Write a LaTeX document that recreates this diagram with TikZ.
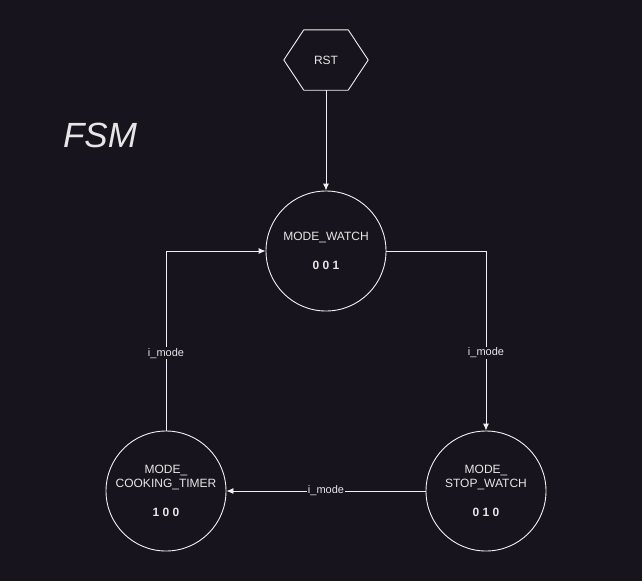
\documentclass[tikz,border=0pt]{standalone}
\usepackage{fontspec}
\setmainfont{Liberation Sans}
\usetikzlibrary{shapes.geometric,arrows.meta,calc}
\definecolor{bg}{RGB}{24,20,29}
\definecolor{fg}{RGB}{240,240,240}
\definecolor{tx}{RGB}{230,230,230}
\tikzset{
  state/.style={circle,draw=fg,line width=0.9pt,minimum size=120pt,inner sep=0pt,text=tx,font=\fontsize{12}{14}\selectfont,align=center},
  conn/.style={draw=fg,line width=0.9pt,-{Latex[length=7pt,width=6pt]}},
  lbl/.style={fill=bg,text=tx,font=\fontsize{11}{13}\selectfont,inner sep=1pt}
}
\begin{document}
\begin{tikzpicture}[x=1pt,y=-1pt]
\fill[bg] (0,0) rectangle (642,581);
\useasboundingbox (0,0) rectangle (642,581);
\node[minimum width=84pt,minimum height=60pt,inner sep=0pt,text=tx,font=\fontsize{12}{14}\selectfont] (rst) at (326,60) {RST};
\draw[fg,line width=0.9pt,line join=round] (rst.west) -- ($(rst.north west)+(20,0)$) -- ($(rst.north east)+(-20,0)$) -- (rst.east) -- ($(rst.south east)+(-20,0)$) -- ($(rst.south west)+(20,0)$) -- cycle;
\node[text=tx,font=\fontsize{35}{40}\selectfont\itshape] (fsm) at (100,135) {FSM};
\node[state] (watch) at (326,251) {MODE\_WATCH\\[15pt]\textbf{0 0 1}};
\node[state] (cook) at (166,491) {MODE\_\\COOKING\_TIMER\\[15pt]\textbf{1 0 0}};
\node[state] (stop) at (486,491) {MODE\_\\STOP\_WATCH\\[15pt]\textbf{0 1 0}};
\draw[conn] (rst.south) -- (watch.north);
\draw[conn] (watch.east) -| node[lbl,pos=0.783] {i\_mode} (stop.north);
\draw[conn] (stop.west) -- node[lbl] {i\_mode} (cook.east);
\draw[conn] (cook.north) |- node[lbl,pos=0.215] {i\_mode} (watch.west);
\end{tikzpicture}
\end{document}
